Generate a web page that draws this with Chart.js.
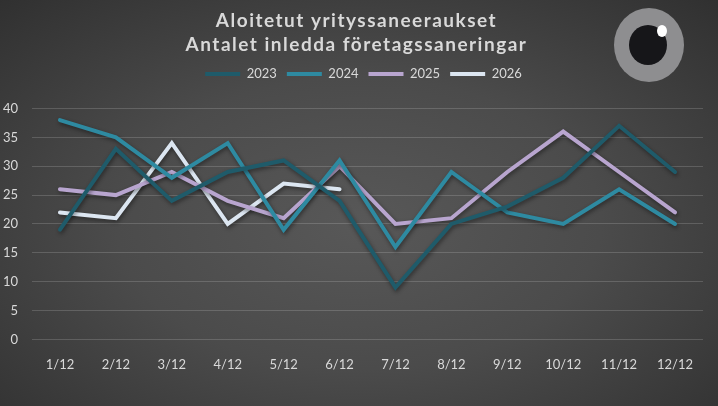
<!DOCTYPE html>
<html>
<head>
<meta charset="utf-8">
<script src="https://cdn.jsdelivr.net/npm/chart.js@4"></script>
<style>
  html, body { margin: 0; padding: 0; }
  body {
    width: 718px; height: 406px; overflow: hidden;
    background: radial-gradient(ellipse 75% 80% at 50% 55%, #585858 0%, #4b4b4b 45%, #2e2e2e 100%);
  }
  #wrap { position: relative; width: 718px; height: 406px; }
</style>
</head>
<body>
<div id="wrap"><canvas id="chart"></canvas></div>
<script>
// Data
const months = ['1/12', '2/12', '3/12', '4/12', '5/12', '6/12', '7/12', '8/12', '9/12', '10/12', '11/12', '12/12'];
const y2023 = [19, 33, 24, 29, 31, 24, 9, 20, 23, 28, 37, 29];
const y2024 = [38, 35, 28, 34, 19, 31, 16, 29, 22, 20, 26, 20];
const y2025 = [26, 25, 29, 24, 21, 30, 20, 21, 29, 36, 29, 22];
const y2026 = [22, 21, 34, 20, 27, 26];
const titleLines = ['Aloitetut yrityssaneeraukset', 'Antalet inledda företagssaneringar'];

const textColor = '#d9d9d9';
const fontFamily = 'Lato, "Open Sans", sans-serif';

// soft drop shadow under the lines
const lineShadow = {
    id: 'lineShadow',
    beforeDatasetsDraw(chart) {
        const ctx = chart.ctx;
        ctx.save();
        ctx.shadowColor = 'rgba(0, 0, 0, 0.45)';
        ctx.shadowBlur = 4;
        ctx.shadowOffsetX = 1;
        ctx.shadowOffsetY = 2;
    },
    afterDatasetsDraw(chart) {
        chart.ctx.restore();
    }
};

// spaced-out title, extra room under the legend, title + legend nudged right
const layoutTweaks = {
    id: 'layoutTweaks',
    beforeInit(chart) {
        const fit = chart.legend.fit;
        chart.legend.fit = function () {
            fit.call(this);
            this.height += 18;
        };
    },
    afterLayout(chart) {
        chart.legend.left += 12;
        chart.legend.right += 12;
        chart.titleBlock.left += 5;
        chart.titleBlock.right += 5;
    },
    beforeDraw(chart) {
        const tb = chart.titleBlock;
        if (tb && !tb._spaced) {
            const draw = tb.draw;
            tb.draw = function () {
                const c = this.ctx;
                c.save();
                c.letterSpacing = '1.5px';
                draw.call(this);
                c.restore();
            };
            tb._spaced = true;
        }
    }
};

// eye logo top right
const eyeLogo = {
    id: 'eyeLogo',
    afterDraw(chart) {
        const ctx = chart.ctx;
        ctx.save();
        ctx.fillStyle = '#8e8e90';
        ctx.beginPath();
        ctx.ellipse(649, 45, 35, 37, 0, 0, Math.PI * 2);
        ctx.fill();
        ctx.fillStyle = '#161619';
        ctx.beginPath();
        ctx.ellipse(648, 45, 19, 20, 0, 0, Math.PI * 2);
        ctx.fill();
        ctx.fillStyle = '#ffffff';
        ctx.beginPath();
        ctx.ellipse(662, 31, 5, 6, 0, 0, Math.PI * 2);
        ctx.fill();
        ctx.restore();
    }
};

function lineSet(label, data, color) {
    return {
        label: label,
        data: data,
        borderColor: color,
        backgroundColor: color,
        borderWidth: 4,
        borderCapStyle: 'round',
        borderJoinStyle: 'miter',
        pointRadius: 0,
        pointHoverRadius: 0,
        tension: 0,
        fill: false
    };
}

const ctx = document.getElementById('chart').getContext('2d');
new Chart(ctx, {
    type: 'line',
    data: {
        labels: months,
        datasets: [
            lineSet('2023', y2023, '#1f5b6a'),
            lineSet('2024', y2024, '#2e8aa1'),
            lineSet('2025', y2025, '#b8a5cf'),
            lineSet('2026', y2026, '#dce6f1')
        ]
    },
    options: {
        responsive: true,
        maintainAspectRatio: false,
        animation: false,
        layout: { padding: { left: 0, right: 15, top: 6, bottom: 23 } },
        plugins: {
            title: {
                display: true,
                text: titleLines,
                color: textColor,
                font: { family: fontFamily, size: 19, weight: 'bold', lineHeight: 1.25 },
                padding: { top: 3, bottom: 1 }
            },
            legend: {
                display: true,
                labels: {
                    color: textColor,
                    font: { family: fontFamily, size: 13 },
                    usePointStyle: true,
                    pointStyle: 'line',
                    pointStyleWidth: 35,
                    boxHeight: 4,
                    padding: 10
                }
            },
            tooltip: { enabled: false }
        },
        scales: {
            x: {
                offset: true,
                grid: { display: false },
                border: { display: false },
                ticks: { color: textColor, font: { family: fontFamily, size: 13 }, padding: 10 }
            },
            y: {
                min: 0,
                max: 40,
                afterFit(scale) { scale.width = 32; },
                ticks: { stepSize: 5, color: textColor, font: { family: fontFamily, size: 13 }, padding: 14 },
                grid: { color: 'rgba(255, 255, 255, 0.16)', drawTicks: false },
                border: { display: false }
            }
        }
    },
    plugins: [lineShadow, layoutTweaks, eyeLogo]
});
</script>
</body>
</html>
